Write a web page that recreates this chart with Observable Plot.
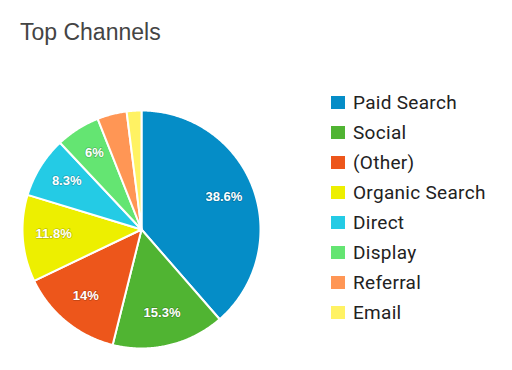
<!DOCTYPE html>
<html>
<head>
<meta charset="utf-8">
<script src="https://cdn.jsdelivr.net/npm/d3@7"></script>
<script src="https://cdn.jsdelivr.net/npm/@observablehq/plot@0.6"></script>
<style>
  html, body { margin: 0; padding: 0; background: #fff; }
  #wrap { position: relative; width: 512px; height: 370px; overflow: hidden; }
  #title { position: absolute; left: 20px; top: 19px; font-family: "Liberation Sans", Arial, sans-serif; font-size: 23px; color: #444; white-space: nowrap; }
  #chart { position: absolute; left: 0; top: 0; }
  #legend { position: absolute; left: 331px; top: 87px; font-family: Roboto, "Noto Sans", sans-serif; font-size: 19px; letter-spacing: 0.3px; color: #222; }
  .item { height: 30px; display: flex; align-items: center; }
  .sw { width: 14px; height: 13px; margin-right: 8px; flex: none; }
</style>
</head>
<body>
<div id="wrap">
  <div id="chart"></div>
  <div id="title">Top Channels</div>
  <div id="legend"></div>
</div>
<script>
const title = "Top Channels";
const channels = ["Paid Search", "Social", "(Other)", "Organic Search", "Direct", "Display", "Referral", "Email"];
const shares = [38.6, 15.3, 14, 11.8, 8.3, 6, 4, 2];
const labels = ["38.6%", "15.3%", "14%", "11.8%", "8.3%", "6%", "", ""];
const colors = ["#058dc7", "#50b432", "#ed561b", "#edef00", "#24cbe5", "#64e572", "#ff9655", "#fff263"];

const data = channels.map((c, i) => ({channel: c, share: shares[i], label: labels[i]}));
const arcs = d3.pie().sort(null).value(d => d.share).startAngle(0).endAngle(2 * Math.PI)(data);

// slice outlines in unit-circle coordinates (geometry of the arc)
const outline = [];
for (const a of arcs) {
  const ch = a.data.channel;
  outline.push({channel: ch, x: 0, y: 0});
  const n = Math.max(2, Math.ceil((a.endAngle - a.startAngle) / (Math.PI / 360)));
  for (let k = 0; k <= n; k++) {
    const t = a.startAngle + (a.endAngle - a.startAngle) * k / n;
    outline.push({channel: ch, x: Math.sin(t), y: Math.cos(t)});
  }
  outline.push({channel: ch, x: 0, y: 0});
}
const labelR = 0.74;
const labelPts = arcs.filter(a => a.data.label).map(a => {
  const m = (a.startAngle + a.endAngle) / 2;
  return {label: a.data.label, x: labelR * Math.sin(m), y: labelR * Math.cos(m)};
});

const plot = Plot.plot({
  width: 512,
  height: 370,
  marginLeft: 22,
  marginRight: 252,
  marginTop: 110,
  marginBottom: 22,
  x: {domain: [-1, 1], axis: null},
  y: {domain: [-1, 1], axis: null},
  color: {domain: channels, range: colors},
  style: {background: "transparent"},
  marks: [
    Plot.line(outline, {x: "x", y: "y", z: "channel", fill: "channel", stroke: "white", strokeWidth: 2, strokeLinejoin: "round", curve: "linear"}),
    Plot.text(labelPts, {x: "x", y: "y", dy: -2, text: "label", fill: "white", stroke: "#000", strokeOpacity: 0.2, strokeWidth: 1.5, fontSize: 13, fontWeight: "bold", fontFamily: "Liberation Sans, Arial, sans-serif"})
  ]
});
document.getElementById("chart").appendChild(plot);

const lg = document.getElementById("legend");
channels.forEach((c, i) => {
  const it = document.createElement("div");
  it.className = "item";
  const sw = document.createElement("span");
  sw.className = "sw";
  sw.style.background = colors[i];
  const tx = document.createElement("span");
  tx.textContent = c;
  it.appendChild(sw); it.appendChild(tx);
  lg.appendChild(it);
});
</script>
</body>
</html>
